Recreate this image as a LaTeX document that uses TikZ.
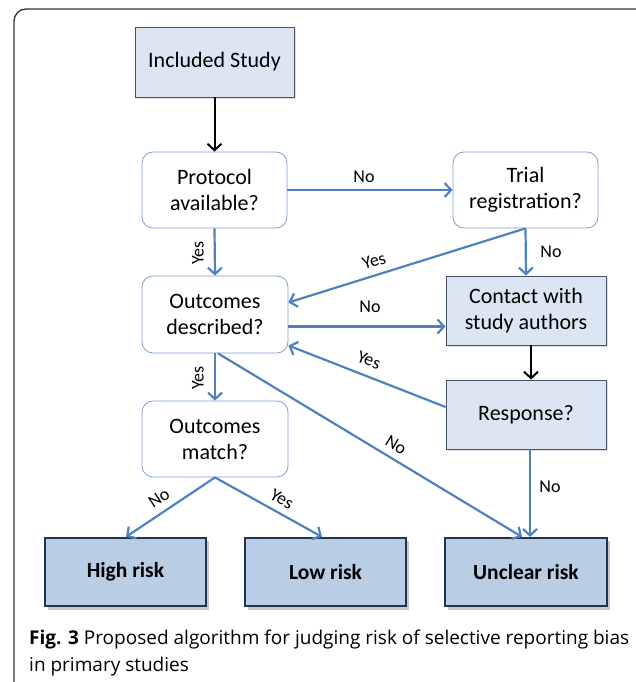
\documentclass[tikz,border=0pt]{standalone}
\usepackage{fontspec}
\setmainfont{Carlito}
\newfontfamily\capfont{Open Sans}
\usetikzlibrary{arrows.meta}
\definecolor{lightfill}{HTML}{DCE6F2}
\definecolor{riskfill}{HTML}{B9CDE5}
\definecolor{darkedge}{HTML}{44546A}
\definecolor{riskedge}{HTML}{1F3450}
\definecolor{softedge}{HTML}{7EA1CF}
\definecolor{arrowblue}{HTML}{4F81BD}
\definecolor{framegray}{HTML}{333333}
\tikzset{
  qbox/.style={draw=softedge, line width=0.8pt, fill=white, rounded corners=11pt,
    minimum width=145pt, minimum height=76pt, align=center, inner sep=0pt,
    font=\fontsize{22}{26}\selectfont},
  sbox/.style={draw=darkedge, line width=0.9pt, fill=lightfill,
    minimum width=160pt, minimum height=69pt, align=center, inner sep=0pt,
    font=\fontsize{22}{26}\selectfont},
  riskbox/.style={draw=riskedge, line width=2.2pt, fill=riskfill,
    minimum width=161pt, minimum height=68pt, align=center, inner sep=0pt,
    font=\fontsize{21.5}{24}\selectfont\bfseries},
  shadowbox/.style={fill=black!22, draw=none},
  barrow/.style={draw=arrowblue, line width=2.2pt, -{Straight Barb[length=6.5pt,width=14pt]}},
  karrow/.style={draw=black, line width=2pt, -{Straight Barb[length=6.5pt,width=14pt]}},
  lbl/.style={font=\fontsize{18}{20}\selectfont, inner sep=0pt},
}
\begin{document}
\begin{tikzpicture}[x=1pt,y=-1pt]
\useasboundingbox (0,0) rectangle (635,682);
% outer frame
\draw[framegray, line width=1.3pt, rounded corners=12pt] (14,700) -- (14,9) -- (650,9) -- (650,700);
% shadows of boxes
\fill[shadowbox] (48,541) rectangle (209,610);
\fill[shadowbox] (248,541) rectangle (409,610);
\fill[shadowbox] (448,541) rectangle (610,610);
\fill[black!12] (137,29) rectangle (296,99);
\fill[black!12] (448,278) rectangle (608,347);
\fill[black!12] (448,382) rectangle (608,451);
% nodes
\node[sbox, minimum width=159pt, minimum height=70pt] (inc) at (214.5,62) {Included Study};
\node[qbox] (prot) at (214.5,190) {Protocol\\available?};
\node[qbox] (trial) at (525.5,190) {Trial\\registration?};
\node[qbox, minimum width=146pt, minimum height=77pt] (od) at (215,314.5) {Outcomes\\described?};
\node[sbox] (contact) at (526,310.5) {Contact with\\study authors};
\node[sbox] (resp) at (526,414.5) {Response?};
\node[qbox, minimum width=146pt] (om) at (215,439) {Outcomes\\match?};
\node[riskbox] (high) at (125.5,572) {High risk};
\node[riskbox] (low) at (325.5,572) {Low risk};
\node[riskbox, minimum width=162pt] (unc) at (526,572) {Unclear risk};
% connectors
\draw[karrow] (inc.south) -- (prot.north);
\draw[barrow] (prot.east) -- (trial.west);
\draw[barrow] (prot.south) -- (od.north);
\draw[barrow] (trial.south) -- (contact.north);
\draw[barrow] (trial.south) -- ([yshift=12pt]od.east);
\draw[barrow] ([yshift=-12pt]od.east) -- ([yshift=-16pt]contact.west);
\draw[karrow] ([xshift=5pt]contact.south) -- ([xshift=5pt]resp.north);
\draw[barrow] ([yshift=7.5pt]resp.west) -- ([yshift=-31pt]od.east);
\draw[barrow] ([xshift=3pt]od.south) -- ([xshift=-4pt]unc.north);
\draw[barrow] (od.south) -- (om.north);
\draw[barrow] (om.south) -- ([xshift=0.5pt]high.north);
\draw[barrow] (om.south) -- ([xshift=-3.5pt]low.north);
\draw[barrow] ([xshift=4pt]resp.south) -- ([xshift=4pt]unc.north);
% labels
\node[lbl] (l1) at (364,177) {No};
\node[lbl, rotate=90] (l2) at (198,253) {Yes};
\node[lbl, rotate=17] (l3) at (374,261) {Yes};
\node[lbl] (l4) at (551,252) {No};
\node[lbl] (l5) at (370,307) {No};
\node[lbl, rotate=-21] (l6) at (369,360) {Yes};
\node[lbl, rotate=90] (l7) at (198,378) {Yes};
\node[lbl, rotate=-31] (l8) at (396,445) {No};
\node[lbl, rotate=34] (l9) at (159,498) {No};
\node[lbl, rotate=-30] (l10) at (282,499) {Yes};
\node[lbl] (l11) at (550,487) {No};
% caption
\node[anchor=west, inner sep=0pt, font=\capfont\fontsize{19}{22}\selectfont] (cap1) at (29,640) {\textbf{Fig. 3} Proposed algorithm for judging risk of selective reporting bias};
\node[anchor=west, inner sep=0pt, font=\capfont\fontsize{19}{22}\selectfont] (cap2) at (29,667) {in primary studies};
\end{tikzpicture}
\end{document}
